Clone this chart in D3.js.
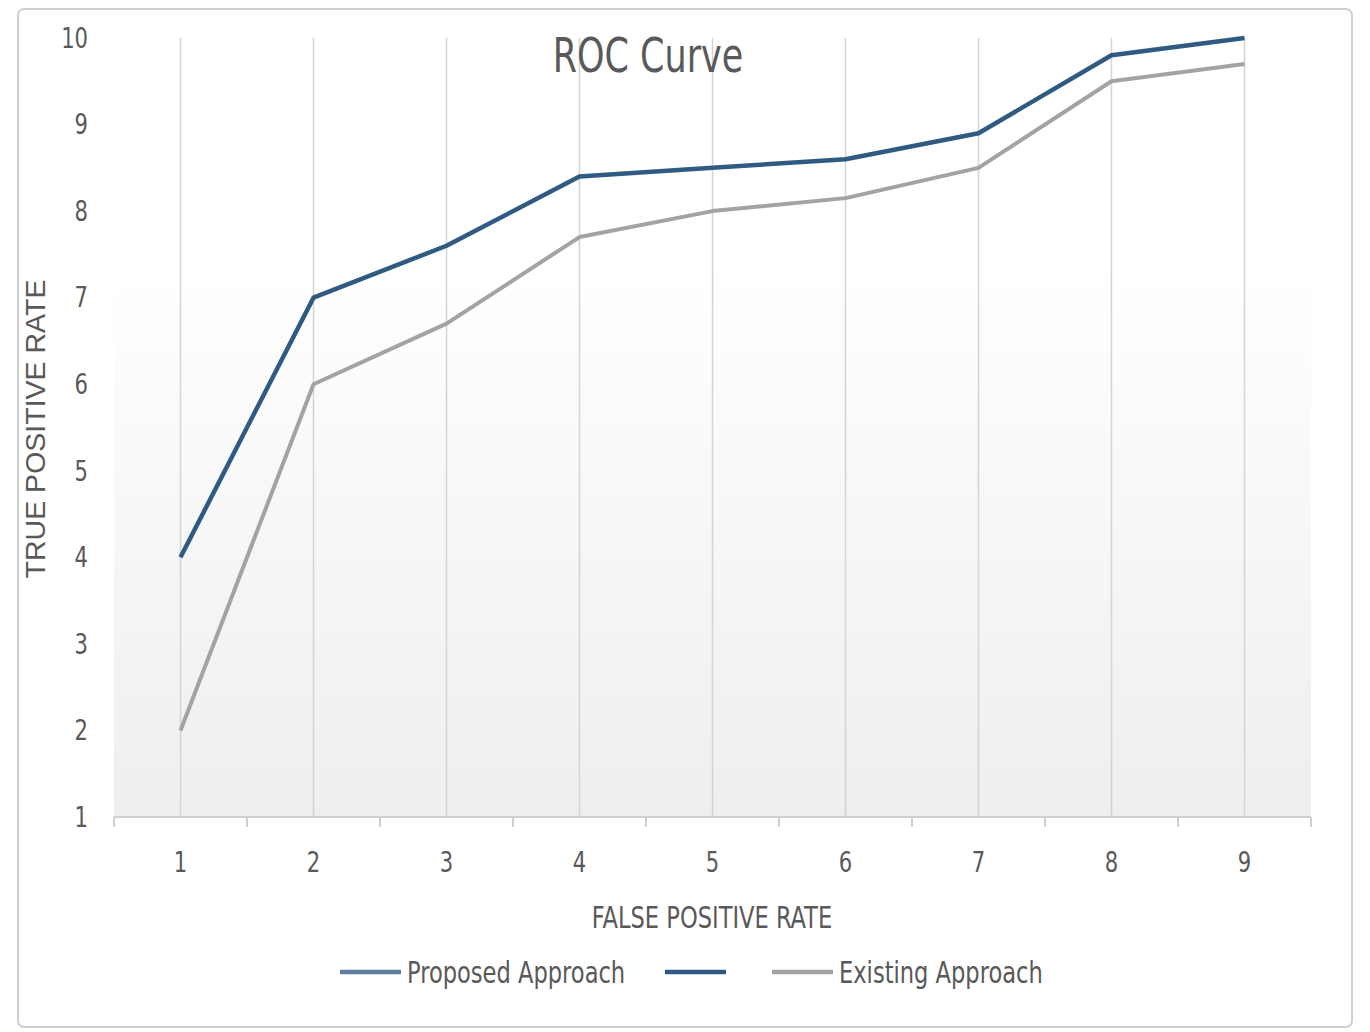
<!DOCTYPE html>
<html>
<head>
<meta charset="utf-8">
<script src="https://cdn.jsdelivr.net/npm/d3@7"></script>
<style>
  html, body { margin: 0; padding: 0; background: #fff; }
  svg { display: block; }
  .narrow { font-family: 'Liberation Sans Narrow', 'DejaVu Sans Condensed', 'Roboto Condensed', sans-serif; }
</style>
</head>
<body>
<svg id="roc" width="1370" height="1032"></svg>
<script>
// ── data ──────────────────────────────────────────────
const fprValues = [1, 2, 3, 4, 5, 6, 7, 8, 9];
const proposedTPR = [4.0, 7.0, 7.6, 8.4, 8.5, 8.6, 8.9, 9.8, 10.0];
const existingTPR = [2.0, 6.0, 6.7, 7.7, 8.0, 8.15, 8.5, 9.5, 9.7];
const yTicks = [1, 2, 3, 4, 5, 6, 7, 8, 9, 10];
const legendLabels = ['Proposed Approach', '', 'Existing Approach'];

const COLORS = {
  proposed: '#2f5b83',
  existing: '#a3a3a3',
  legendProposed: '#5f7f9c',
  text: '#595959',
  grid: '#d4d4d4',
  axis: '#cfcfcf'
};

// squeeze DejaVu Condensed a bit more so it reads like the original narrow face
const SQUEEZE = 0.81;

function narrowText(parent, x, y, size, str, anchor) {
  return parent.append('g')
    .attr('transform', `translate(${x},${y}) scale(${SQUEEZE},1)`)
    .append('text')
      .attr('class', 'narrow')
      .attr('text-anchor', anchor || 'middle')
      .attr('font-size', size)
      .attr('fill', COLORS.text)
      .text(str);
}

function drawRoc() {
  const svg = d3.select('#roc');
  svg.selectAll('*').remove();

  const plot = { left: 114, right: 1311, top: 30, bottom: 817 };

  // chart frame
  svg.append('rect')
    .attr('x', 18).attr('y', 9).attr('width', 1334).attr('height', 1018)
    .attr('rx', 6)
    .attr('fill', '#fff').attr('stroke', '#d0d0d0').attr('stroke-width', 2);

  // background gradient in the plot area
  const defs = svg.append('defs');
  const grad = defs.append('linearGradient').attr('id', 'plotBg')
    .attr('x1', 0).attr('y1', 0).attr('x2', 0).attr('y2', 1);
  grad.append('stop').attr('offset', '0%').attr('stop-color', '#ffffff');
  grad.append('stop').attr('offset', '30%').attr('stop-color', '#ffffff');
  grad.append('stop').attr('offset', '100%').attr('stop-color', '#eeeeee');

  svg.append('rect')
    .attr('x', plot.left).attr('y', plot.top)
    .attr('width', plot.right - plot.left).attr('height', plot.bottom - plot.top)
    .attr('fill', 'url(#plotBg)');

  const x = d3.scaleBand().domain(fprValues).range([plot.left, plot.right]).paddingInner(0);
  const cx = d => x(d) + x.bandwidth() / 2;
  const y = d3.scaleLinear().domain([1, 10]).range([plot.bottom, 38]);

  // vertical gridlines at category centers
  svg.append('g').selectAll('line')
    .data(fprValues).enter().append('line')
      .attr('x1', cx).attr('x2', cx)
      .attr('y1', y(10)).attr('y2', plot.bottom)
      .attr('stroke', COLORS.grid).attr('stroke-width', 1.5);

  // x axis line + tick marks at band boundaries
  svg.append('line')
    .attr('x1', plot.left).attr('x2', plot.right)
    .attr('y1', plot.bottom).attr('y2', plot.bottom)
    .attr('stroke', COLORS.axis).attr('stroke-width', 2);

  const edges = fprValues.map(d => x(d)).concat([plot.right]);
  svg.append('g').selectAll('line')
    .data(edges).enter().append('line')
      .attr('x1', d => d).attr('x2', d => d)
      .attr('y1', plot.bottom).attr('y2', plot.bottom + 10)
      .attr('stroke', COLORS.axis).attr('stroke-width', 2);

  // x tick labels via axis (no tick lines)
  const xAxis = svg.append('g')
    .attr('transform', `translate(0,${plot.bottom})`)
    .call(d3.axisBottom(x).tickSize(0).tickPadding(34));
  xAxis.select('.domain').remove();
  xAxis.selectAll('text')
    .attr('class', 'narrow')
    .attr('font-size', 29)
    .attr('fill', COLORS.text)
    .attr('transform', `scale(${SQUEEZE},1)`);

  // y tick labels
  const yAxis = svg.append('g')
    .attr('transform', `translate(${plot.left - 26},0) scale(${SQUEEZE},1)`)
    .call(d3.axisLeft(y).tickValues(yTicks).tickSize(0).tickPadding(0));
  yAxis.select('.domain').remove();
  yAxis.selectAll('text')
    .attr('class', 'narrow')
    .attr('font-size', 29)
    .attr('fill', COLORS.text);

  // lines
  const line = vals => d3.line()
    .x((d, i) => cx(fprValues[i]))
    .y(d => y(d))(vals);

  svg.append('path')
    .attr('d', line(existingTPR))
    .attr('fill', 'none')
    .attr('stroke', COLORS.existing)
    .attr('stroke-width', 4)
    .attr('stroke-linejoin', 'round');

  svg.append('path')
    .attr('d', line(proposedTPR))
    .attr('fill', 'none')
    .attr('stroke', COLORS.proposed)
    .attr('stroke-width', 4.5)
    .attr('stroke-linejoin', 'round');

  // title
  narrowText(svg, 648, 72, 48, 'ROC Curve');

  // axis titles
  narrowText(svg, 712, 928, 31, 'FALSE POSITIVE RATE');

  svg.append('text')
    .attr('transform', 'translate(45,429) rotate(-90)')
    .attr('text-anchor', 'middle')
    .attr('font-family', 'Liberation Sans, Arial, sans-serif')
    .attr('font-size', 28.5)
    .attr('fill', COLORS.text)
    .text('TRUE POSITIVE RATE');

  // legend
  const legendColors = [COLORS.legendProposed, COLORS.proposed, COLORS.existing];
  const legendX = [340, 665, 772];
  const lg = svg.append('g');
  legendLabels.forEach((label, i) => {
    lg.append('line')
      .attr('x1', legendX[i]).attr('x2', legendX[i] + 61)
      .attr('y1', 972).attr('y2', 972)
      .attr('stroke', legendColors[i]).attr('stroke-width', 4.5);
    if (label) {
      narrowText(lg, legendX[i] + 67, 983, 31, label, 'start');
    }
  });
}

drawRoc();
</script>
</body>
</html>
